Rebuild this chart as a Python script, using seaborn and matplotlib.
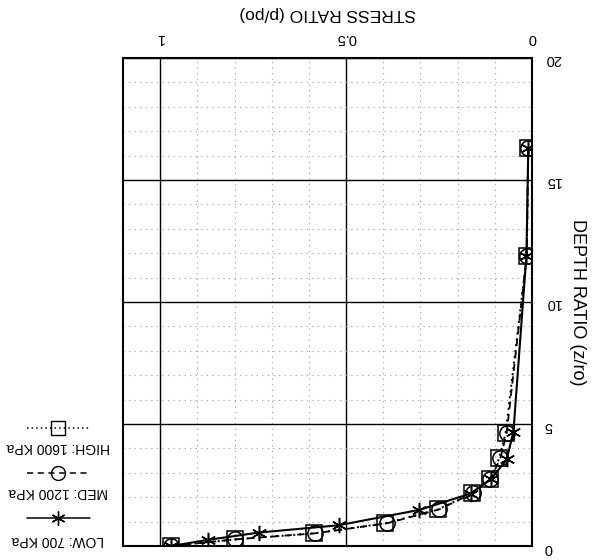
import matplotlib
matplotlib.use("Agg")
import matplotlib.pyplot as plt
import seaborn as sns
import pandas as pd
from matplotlib.lines import Line2D

sns.set_theme(style="white")
plt.rcParams['font.family'] = ['Liberation Sans', 'DejaVu Sans']
plt.rcParams['text.color'] = 'black'
plt.rcParams['axes.labelcolor'] = 'black'
plt.rcParams['xtick.color'] = 'black'
plt.rcParams['ytick.color'] = 'black'

# depth ratio z/ro
depth_low = [0.0, 0.25, 0.55, 0.85, 1.48, 2.15, 2.75, 3.55, 4.68, 11.9, 16.3]
depth_med = [0.0, 0.27, 0.52, 0.93, 1.50, 2.16, 2.73, 3.60, 4.64, 11.9, 16.3]
depth_high = [0.0, 0.27, 0.52, 0.93, 1.50, 2.16, 2.73, 3.60, 4.64, 11.9, 16.3]
# stress ratio p/po
stress_low = [0.97, 0.872, 0.735, 0.52, 0.303, 0.165, 0.11, 0.068, 0.05, 0.015, 0.01]
stress_med = [0.97, 0.80, 0.583, 0.39, 0.25, 0.16, 0.112, 0.085, 0.068, 0.014, 0.01]
stress_high = [0.97, 0.798, 0.585, 0.395, 0.252, 0.162, 0.113, 0.088, 0.071, 0.014, 0.01]

labels = ["LOW: 700 KPa", "MED: 1200 KPa", "HIGH: 1600 KPa"]
x_ticks = [0, 0.5, 1]
x_tick_labels = ["0", "0.5", "1"]
y_ticks = [0, 5, 10, 15, 20]
y_tick_labels = ["0", "5", "10", "15", "20"]

fig = plt.figure(figsize=(5.96, 5.6), dpi=100)
ax = fig.add_axes([123/596, 1 - 546/560, (532 - 123)/596, (546 - 58)/560])

styles = [
    dict(linestyle="-", marker=(6, 2, 0), markersize=11, linewidth=1.5),
    dict(linestyle=(0, (4, 3)), marker="o", markersize=11, linewidth=1.3),
    dict(linestyle=(0, (1, 2)), marker="s", markersize=11, linewidth=1.4),
]
series = [(stress_low, depth_low), (stress_med, depth_med), (stress_high, depth_high)]
for (xs, ys), lab, st in zip(series, labels, styles):
    df = pd.DataFrame({"stress": xs, "depth": ys})
    sns.lineplot(data=df, x="stress", y="depth", sort=False, ax=ax, color="black",
                 linestyle=st["linestyle"], marker=st["marker"], markersize=st["markersize"],
                 markerfacecolor="none", markeredgecolor="black", markeredgewidth=1.1,
                 linewidth=st["linewidth"], label=lab, legend=False)

ax.set_xlim(1.1, 0)
ax.set_ylim(0, 20)

# grid
ax.set_xticks([i / 10 for i in range(1, 11)], minor=True)
ax.set_yticks(list(range(1, 20)), minor=True)
ax.grid(which="minor", color="#999999", linestyle=(0, (1, 4)), linewidth=0.8)
ax.grid(which="major", color="black", linestyle="-", linewidth=1.0)

ax.xaxis.tick_top()
ax.xaxis.set_label_position("top")
ax.set_xticks(x_ticks)
ax.set_xticklabels(x_tick_labels, rotation=180, fontsize=10.5)
ax.yaxis.tick_right()
ax.yaxis.set_label_position("right")
ax.set_yticks(y_ticks)
ax.set_yticklabels(y_tick_labels, rotation=180, fontsize=10.5)
ax.tick_params(which="both", length=0, pad=9)

ax.set_xlabel("STRESS RATIO (p/po)", rotation=180, fontsize=12.5, labelpad=10)
ax.set_ylabel("DEPTH RATIO (z/ro)", rotation=270, fontsize=13, labelpad=18)

for s in ax.spines.values():
    s.set_color("black")
    s.set_linewidth(1.5)
    s.set_visible(True)

# rotated legend on the left
leg_items = [
    (labels[2], styles[2], 447, 428),
    (labels[1], styles[1], 492, 473),
    (labels[0], styles[0], 540, 518),
]
for lab, st, ty, ly in leg_items:
    fig.text(58/596, 1 - ty/560, lab, rotation=180, ha="center", va="center", fontsize=10)
    fig.add_artist(Line2D([27/596, 90/596], [1 - ly/560, 1 - ly/560], color="black",
                          linestyle=st["linestyle"], linewidth=1.1))
    fig.add_artist(Line2D([58/596], [1 - ly/560], marker=st["marker"], markersize=10,
                          markerfacecolor="none", markeredgecolor="black", color="black",
                          linestyle="none"))

fig.savefig("out.png", dpi=100)
